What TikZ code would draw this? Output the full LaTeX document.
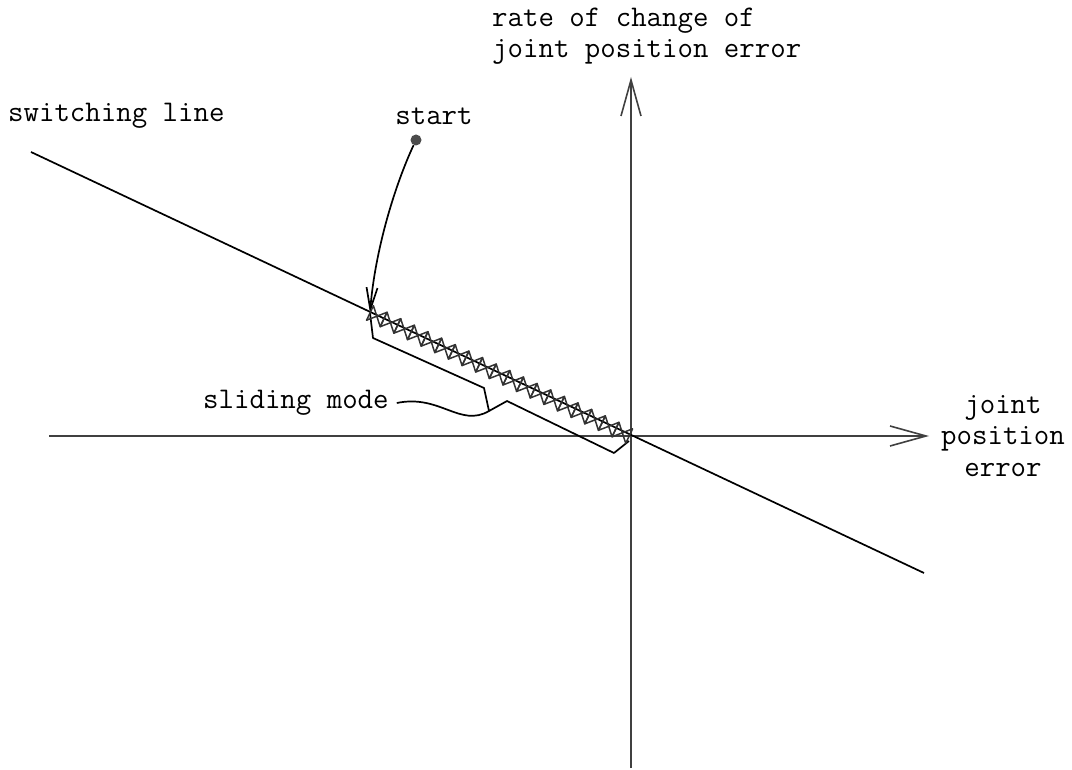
\documentclass[tikz,border=0pt]{standalone}
\usepackage{fontspec}
\usetikzlibrary{arrows.meta}

\begin{document}
\begin{tikzpicture}[x = 1pt, y = -1pt,
        axis/.style = {line width = 2.2pt, draw = black!75, -{Straight Barb[length = 36pt, width = 20pt, line width = 1.6pt]}},
        curve/.style = {line width = 1.7pt},
        lbl/.style = {font = \ttfamily\fontsize{30}{31.5}\selectfont, inner sep = 0pt}]
        \useasboundingbox (0, 0) rectangle (1072, 770);
        \coordinate (O) at (631, 436);
        \coordinate (xl) at (49, 436);
        \coordinate (xr) at (929, 436);
        \coordinate (yb) at (631, 768);
        \coordinate (yt) at (631, 77);
        \coordinate (s1) at (31, 152);
        \coordinate (s2) at (924, 573);
        \coordinate (hit) at (370, 313);
        \coordinate (t1) at (373, 338);
        \coordinate (t2) at (484, 388);
        \coordinate (t3) at (489, 411);
        \coordinate (t4) at (507, 401);
        \coordinate (t5) at (614, 453);
        \coordinate (t6) at (629, 441);
        \node[circle, fill = black!70, inner sep = 0pt, minimum size = 11pt] (start) at (416, 140) {};
        \node[lbl, anchor = west] (swl) at (8, 116) {switching line};
        \node[lbl] (stl) at (434, 116) {start};
        \node[lbl, anchor = west] (sml) at (203, 403) {sliding mode};
        \node[lbl, anchor = west, align = left] (yl) at (492, 36) {rate of change of\\joint position error};
        \node[lbl, align = center] (xlb) at (1003, 436) {joint\\position\\error};
        \draw[axis] (xl) -- (xr);
        \draw[axis] (yb) -- (yt);
        \draw[curve] (s1) -- (s2);
        \draw[curve, -{Straight Barb[length = 22pt, width = 11pt]}] (start) .. controls (395, 185) and (375, 250) .. (hit);
        \draw[curve, line join = round] (hit) -- (t1) -- (t2) -- (t3) -- (t4) -- (t5) -- (t6);
        \draw[curve] (sml.east) ++(8, 0) .. controls (440, 394) and (460, 428) .. (t3);
        \begin{scope}[shift = {(hit)}, rotate = -25.4]
            \foreach \k in {0, ..., 18}
                \draw[line width = 1.5pt, draw = black!80, line join = round] (\k*15.1, 8) -- (\k*15.1 + 15.1, -8) -- (\k*15.1 + 15.1, 8) -- (\k*15.1, -8) -- cycle;
        \end{scope}
    \end{tikzpicture}
\end{document}
